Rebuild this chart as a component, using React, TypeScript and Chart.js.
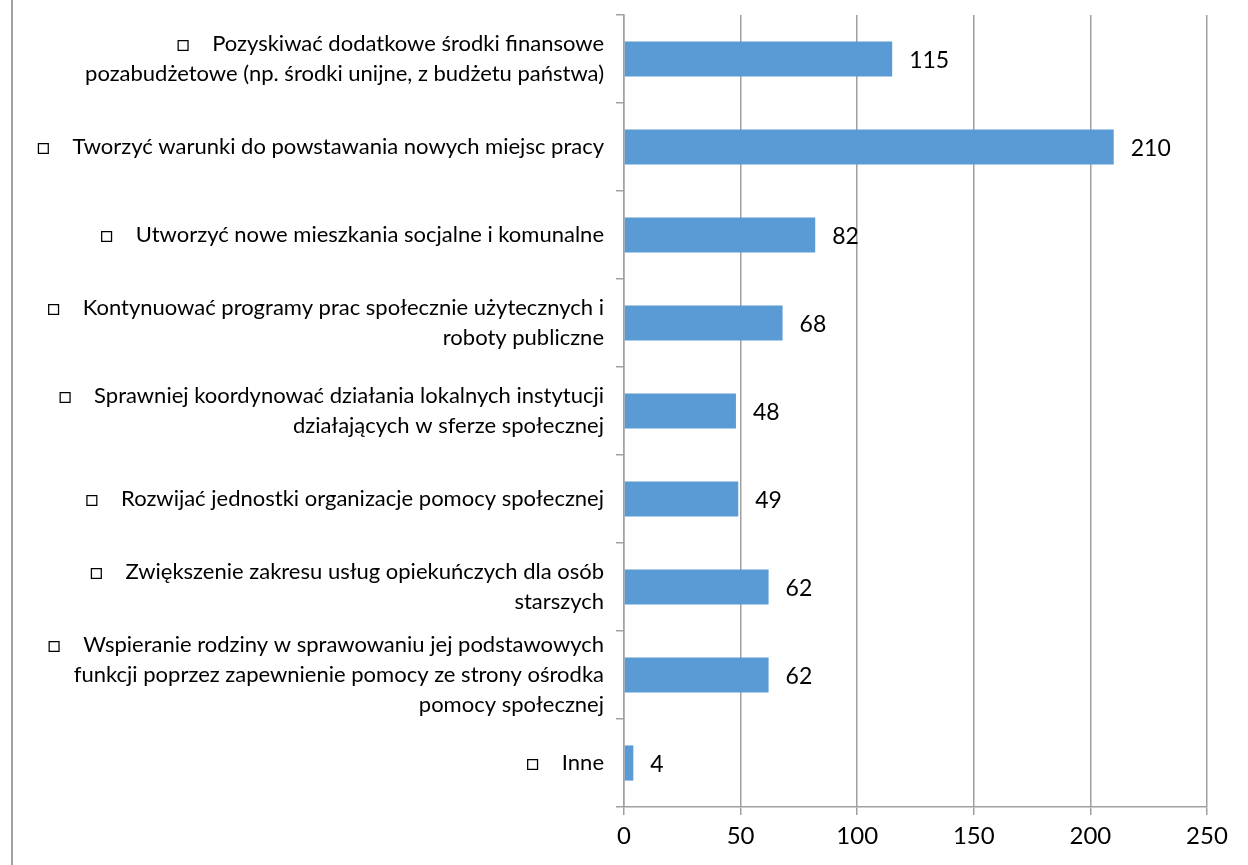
import React, { useEffect, useRef } from "react";
import { Chart, registerables } from "chart.js";

Chart.register(...registerables);

const categories: string[][] = [
  ["□    Pozyskiwać dodatkowe środki finansowe", "pozabudżetowe (np. środki unijne, z budżetu państwa)"],
  ["□    Tworzyć warunki do powstawania nowych miejsc pracy"],
  ["□    Utworzyć nowe mieszkania socjalne i komunalne"],
  ["□    Kontynuować programy prac społecznie użytecznych i", "roboty publiczne"],
  ["□    Sprawniej koordynować działania lokalnych instytucji", "działających w sferze społecznej"],
  ["□    Rozwijać jednostki organizacje pomocy społecznej"],
  ["□    Zwiększenie zakresu usług opiekuńczych dla osób", "starszych"],
  ["□    Wspieranie rodziny w sprawowaniu jej podstawowych", "funkcji poprzez zapewnienie pomocy ze strony ośrodka", "pomocy społecznej"],
  ["□    Inne"],
];

const values: number[] = [115, 210, 82, 68, 48, 49, 62, 62, 4];

const xMin = 0;
const xMax = 250;
const xStep = 50;

const FONT = "Lato, 'Open Sans', sans-serif";

const valueLabels = {
  id: "valueLabels",
  afterDatasetsDraw(chart: any) {
    const ctx = chart.ctx;
    const meta = chart.getDatasetMeta(0);
    ctx.save();
    ctx.font = `23px ${FONT}`;
    ctx.fillStyle = "#000";
    ctx.textAlign = "left";
    ctx.textBaseline = "middle";
    meta.data.forEach((bar: any, i: number) => {
      ctx.fillText(String(values[i]), bar.x + 17, bar.y + 2);
    });
    ctx.restore();
  },
};

export default function App() {
  const ref = useRef<HTMLCanvasElement>(null);
  useEffect(() => {
    if (!ref.current) return;
    const chart = new Chart(ref.current, {
      type: "bar",
      data: {
        labels: categories,
        datasets: [
          {
            data: values,
            backgroundColor: "#5B9BD5",
            borderWidth: 0,
            barPercentage: 0.4,
            categoryPercentage: 1,
          },
        ],
      },
      plugins: [valueLabels],
      options: {
        indexAxis: "y",
        animation: false,
        responsive: false,
        devicePixelRatio: 1,
        layout: { padding: { top: 15, right: 41, bottom: 0, left: 0 } },
        plugins: { legend: { display: false }, tooltip: { enabled: false } },
        scales: {
          x: {
            min: xMin,
            max: xMax,
            ticks: {
              stepSize: xStep,
              color: "#000",
              font: { family: FONT, size: 24 },
              padding: 7,
            },
            grid: { color: "#a0a0a0", lineWidth: 1.5, tickLength: 8 },
            border: { color: "#a0a0a0", width: 1.5 },
            afterFit: (s: any) => {
              s.height = 58;
              s.paddingLeft = 0;
              s.paddingRight = 0;
            },
          },
          y: {
            ticks: {
              color: "#000",
              font: { family: FONT, size: 22, lineHeight: 1.38 },
              padding: 12,
              autoSkip: false,
            },
            grid: { drawOnChartArea: false, color: "#a0a0a0", lineWidth: 1.5, tickLength: 8 },
            border: { color: "#a0a0a0", width: 1.5 },
            afterFit: (s: any) => {
              s.width = 624;
              s.paddingTop = 0;
              s.paddingBottom = 0;
            },
          },
        },
      },
    });
    return () => chart.destroy();
  }, []);
  return (
    <div style={{ position: "fixed", left: 0, top: 0, width: 1248, height: 865, background: "#fff" }}>
      <div style={{ position: "absolute", left: 11, top: 0, width: 2, height: 865, background: "#a0a0a0" }} />
      <canvas ref={ref} width={1248} height={865} style={{ position: "absolute", left: 0, top: 0 }} />
    </div>
  );
}
